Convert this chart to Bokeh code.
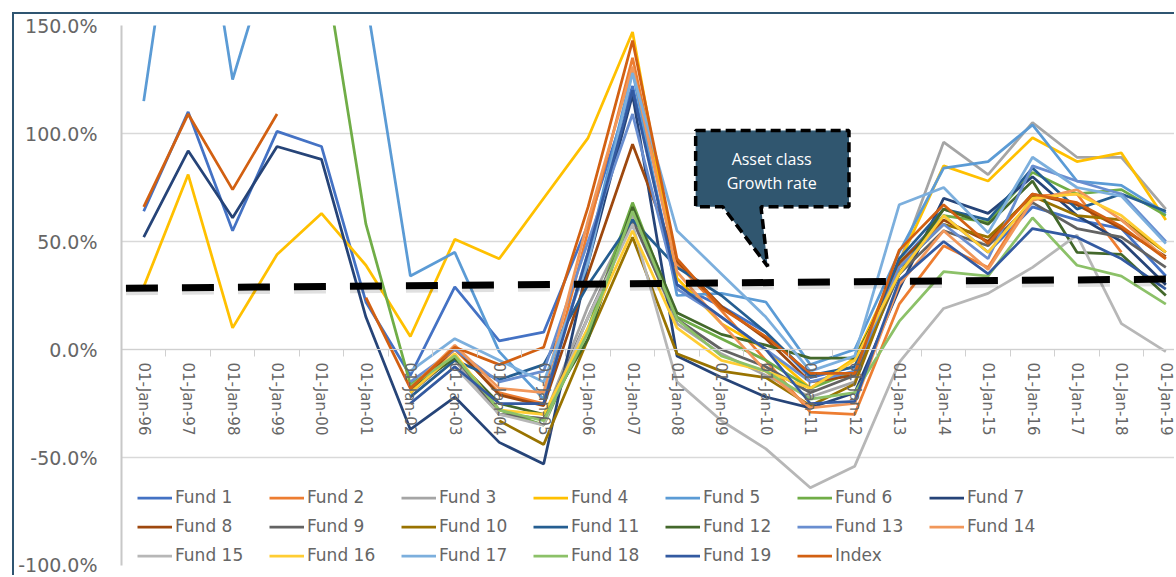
import numpy as np
from bokeh.plotting import figure
from bokeh.models import FixedTicker, NumeralTickFormatter, Legend, LegendItem
from bokeh.embed import file_html
from bokeh.resources import INLINE
from bokeh.core.properties import value

N = float("nan")

years = ["01-Jan-96", "01-Jan-97", "01-Jan-98", "01-Jan-99", "01-Jan-00", "01-Jan-01",
         "01-Jan-02", "01-Jan-03", "01-Jan-04", "01-Jan-05", "01-Jan-06", "01-Jan-07",
         "01-Jan-08", "01-Jan-09", "01-Jan-10", "01-Jan-11", "01-Jan-12", "01-Jan-13",
         "01-Jan-14", "01-Jan-15", "01-Jan-16", "01-Jan-17", "01-Jan-18", "01-Jan-19"]

# values in percent
fund_1 = [64, 110, 55, 101, 94, 22, -12, 29, 4, 8, 58, 122, 30, 20, 8, -13, -8, 40, 62, 45, 66, 60, 56, 34]
fund_2 = [N, N, N, N, N, N, -19, 0, -20, -25, 55, 135, 40, 18, -5, -29, -30, 21, 48, 38, 71, 72, 45, N]
fund_3 = [N, N, N, N, N, N, -22, -5, -30, -32, 20, 62, 12, -2, -12, -22, -15, 40, 96, 81, 105, 89, 89, 65]
fund_4 = [29, 81, 10, 44, 63, 39, 6, 51, 42, 70, 98, 147, 33, 12, 0, -18, -4, 40, 85, 78, 98, 87, 91, 60]
fund_5 = [115, 255, 125, 193, 200, 163, 34, 45, -1, -23, 45, 129, 25, 26, 22, -7, 0, 45, 84, 87, 104, 78, 76, 63]
fund_6 = [N, N, N, N, 187, 58, -16, -3, -28, -35, 10, 68, 15, 5, -5, -18, -10, 35, 62, 59, 82, 72, 74, 62]
fund_7 = [52, 92, 61, 94, 88, 15, -37, -22, -43, -53, 40, 118, -3, -13, -22, -27, -20, 28, 70, 63, 80, 62, 50, 30]
fund_8 = [N, N, N, N, N, N, -20, 1, -21, -26, 35, 95, 41, 20, 5, -15, -12, 40, 60, 50, 72, 67, 56, 43]
fund_9 = [N, N, N, N, N, N, -20, -3, -30, -32, 15, 60, 14, 0, -8, -20, -12, 35, 55, 48, 68, 56, 52, 38]
fund_10 = [N, N, N, N, N, N, N, N, -33, -44, 5, 52, -2, -10, -13, -26, -16, 38, 58, 52, 71, 62, 60, 45]
fund_11 = [N, N, N, N, N, N, -22, -5, -14, -7, 30, 60, 38, 25, 8, -12, -8, 42, 65, 60, 84, 65, 72, 64]
fund_12 = [N, N, N, N, N, N, -18, -4, -25, -30, 5, 66, 17, 7, 2, -4, -4, 35, 65, 58, 78, 45, 44, 25]
fund_13 = [N, N, N, N, N, N, -15, 0, -15, -10, 50, 109, 28, 15, 0, -15, -10, 38, 58, 42, 85, 78, 72, 50]
fund_14 = [N, N, N, N, N, N, -18, 2, -18, -20, 60, 131, 36, 12, -10, -27, -25, 30, 55, 37, 69, 74, 60, 42]
fund_15 = [N, N, N, N, N, N, -25, -8, -30, -35, 15, 58, -15, -33, -46, -64, -54, -6, 19, 26, 38, 53, 12, -1]
fund_16 = [N, N, N, N, N, N, -20, -2, -28, -30, 10, 55, 10, -5, -10, -18, -5, 35, 62, 45, 70, 72, 62, 45]
fund_17 = [N, N, N, N, N, N, -10, 5, -5, -15, 40, 128, 55, 35, 15, -10, -3, 67, 75, 54, 89, 75, 71, 49]
fund_18 = [N, N, N, N, N, N, -17, -3, -28, -33, 8, 64, 14, -3, -10, -23, -20, 13, 36, 34, 61, 39, 34, 21]
fund_19 = [N, N, N, N, N, N, -25, -8, -25, -25, 45, 120, 30, 15, 0, -25, -24, 32, 50, 35, 56, 52, 42, 28]
index = [66, 109, 74, 109, N, 24, -18, 1, -7, 1, 66, 143, 42, 19, 6, -11, -11, 46, 67, 49, 72, 68, 57, 42]

series_names = ["Fund 1", "Fund 2", "Fund 3", "Fund 4", "Fund 5", "Fund 6", "Fund 7",
                "Fund 8", "Fund 9", "Fund 10", "Fund 11", "Fund 12", "Fund 13", "Fund 14",
                "Fund 15", "Fund 16", "Fund 17", "Fund 18", "Fund 19", "Index"]
series_values = [fund_1, fund_2, fund_3, fund_4, fund_5, fund_6, fund_7, fund_8, fund_9,
                 fund_10, fund_11, fund_12, fund_13, fund_14, fund_15, fund_16, fund_17,
                 fund_18, fund_19, index]
colors = ["#4472C4", "#ED7D31", "#A5A5A5", "#FFC000", "#5B9BD5", "#70AD47", "#264478",
          "#9E480E", "#636363", "#997300", "#255E91", "#43682B", "#698ED0", "#F1975A",
          "#B7B7B7", "#FFCD33", "#7CAFDD", "#8CC168", "#335AA1", "#D26012"]

# annotation: asset class growth rate (dashed line) and callout
growth_x = [-0.4, 23.1]
growth_y = [28.4, 32.6]
callout_x = [12.42, 15.87, 15.87, 13.89, 14.04, 13.03, 12.42]
callout_y = [101.4, 101.4, 66.1, 66.1, 38.5, 66.1, 66.1]
callout_text = ["Asset class", "Growth rate"]
callout_text_x = [14.13, 14.13]
callout_text_y = [88.0, 77.3]

OFF = 14  # left/top chart-frame border offset (12px margin + 2px border)
W, H = 1176 - OFF, 577 - OFF
p = figure(width=W, height=H, x_range=(-0.5, 23.24), y_range=(-1.0, 1.5),
           output_backend="svg", toolbar_location=None,
           min_border_left=121 - OFF, min_border_right=0, min_border_top=25 - OFF,
           min_border_bottom=12)
p.styles = {"margin-left": "12px", "margin-top": "12px",
            "border-left": "2px solid #2F5571", "border-top": "2px solid #2F5571"}
p.outline_line_color = None
p.background_fill_color = "white"
p.border_fill_color = "white"

x = np.arange(len(years))
items = []
for name, vals, c in zip(series_names, series_values, colors):
    r = p.line(x, np.array(vals, dtype=float) / 100.0, line_color=c, line_width=2.75)
    items.append(LegendItem(label=name, renderers=[r]))

# growth line with soft shadow
gy = np.array(growth_y) / 100.0
p.line(growth_x, gy - 0.014, line_color="black", line_alpha=0.12, line_width=8, line_dash="32 24")
p.line(growth_x, gy, line_color="black", line_width=7, line_dash="32 24")

# callout
p.patch(callout_x, np.array(callout_y) / 100.0, fill_color="#30566F", line_color="black",
        line_width=3.5, line_dash="10 5")
p.text(callout_text_x, np.array(callout_text_y) / 100.0, text=callout_text,
       text_color="white", text_font=value("Open Sans"), text_font_size="16px",
       text_align="center", text_baseline="middle")

# axes
p.xaxis.ticker = FixedTicker(ticks=list(range(len(years))),
                             minor_ticks=[i - 0.5 for i in range(len(years) + 1)])
p.xaxis.major_label_overrides = {i: years[i] for i in range(len(years))}
p.xaxis.fixed_location = 0
p.xaxis.major_label_orientation = "vertical"
p.xaxis.major_tick_line_color = None
p.xaxis.major_tick_out = 0
p.xaxis.major_tick_in = 0
p.xaxis.minor_tick_out = 7
p.xaxis.minor_tick_in = 0
p.xaxis.minor_tick_line_color = "#d0d0d0"
p.xaxis.axis_line_color = "#d0d0d0"
p.xaxis.major_label_standoff = 6
p.xaxis.major_label_text_font = "DejaVu Sans"
p.xaxis.major_label_text_font_size = "15px"
p.xaxis.major_label_text_color = "#666666"

p.yaxis.ticker = FixedTicker(ticks=[-1.0, -0.5, 0.0, 0.5, 1.0, 1.5])
p.yaxis.formatter = NumeralTickFormatter(format="0.0%")
p.yaxis.major_tick_line_color = None
p.yaxis.minor_tick_line_color = None
p.yaxis.major_tick_out = 0
p.yaxis.major_label_standoff = 24
p.yaxis.axis_line_color = "#c8c8c8"
p.yaxis.axis_line_width = 2
p.yaxis.major_label_text_font = "DejaVu Sans"
p.yaxis.major_label_text_font_size = "19px"
p.yaxis.major_label_text_color = "#666666"

p.xgrid.grid_line_color = None
p.ygrid.ticker = FixedTicker(ticks=[-1.0, -0.5, 0.0, 0.5, 1.0, 1.5])
p.ygrid.grid_line_color = "#d9d9d9"
p.ygrid.grid_line_width = 1.5

legend = Legend(items=items, orientation="horizontal", ncols=7, location=(16, -2.5),
                label_text_font="DejaVu Sans", label_text_font_size="17px",
                label_text_color="#666666", glyph_width=35, glyph_height=25,
                label_height=25, label_width=90, label_standoff=3, spacing=4,
                padding=0, margin=0, border_line_color=None, background_fill_alpha=0)
p.add_layout(legend)

open("out.html", "w").write(file_html(p, INLINE))
